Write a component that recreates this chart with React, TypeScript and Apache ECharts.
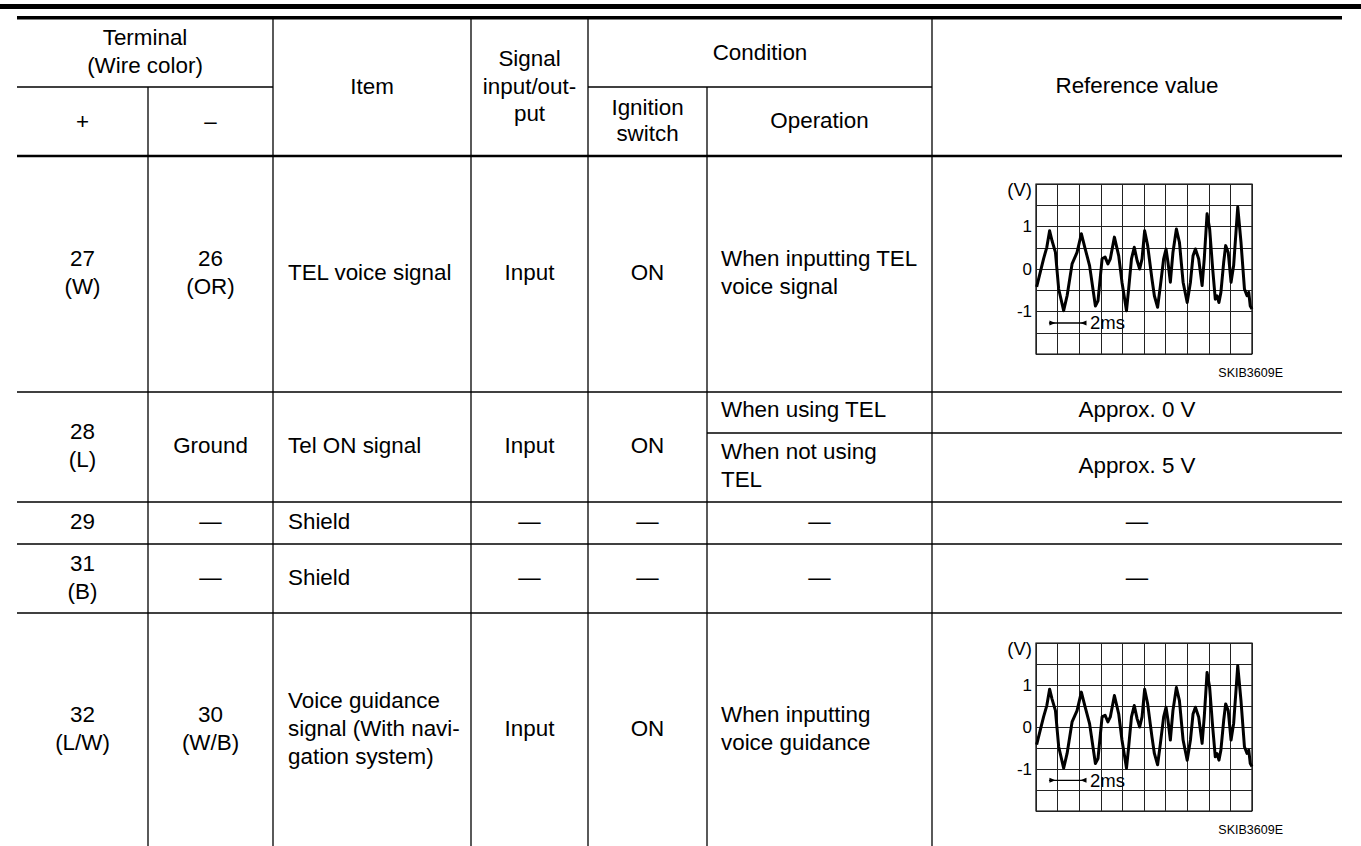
import React, { useEffect, useRef } from 'react';
import * as echarts from 'echarts';

// ---------------- DATA ----------------
const headerTerminal = 'Terminal\n(Wire color)';
const headerPlus = '+';
const headerMinus = '–';
const headerItem = 'Item';
const headerSignal = 'Signal\ninput/out-\nput';
const headerCondition = 'Condition';
const headerIgnition = 'Ignition\nswitch';
const headerOperation = 'Operation';
const headerReference = 'Reference value';

const termPlus = ['27\n(W)', '28\n(L)', '29', '31\n(B)', '32\n(L/W)'];
const termMinus = ['26\n(OR)', 'Ground', '—', '—', '30\n(W/B)'];
const itemNames = ['TEL voice signal', 'Tel ON signal', 'Shield', 'Shield', 'Voice guidance\nsignal (With navi-\ngation system)'];
const signalIO = ['Input', 'Input', '—', '—', 'Input'];
const ignitionSwitch = ['ON', 'ON', '—', '—', 'ON'];
const operations = [
  ['When inputting TEL\nvoice signal'],
  ['When using TEL', 'When not using\nTEL'],
  ['—'],
  ['—'],
  ['When inputting\nvoice guidance'],
];
const referenceValues = [
  null,
  ['Approx. 0 V', 'Approx. 5 V'],
  ['—'],
  ['—'],
  null,
];
const waveCode = 'SKIB3609E';
const waveUnit = '(V)';
const waveScaleLabel = '2ms';
const voltTickLabels = [1, 0, -1];

// waveform trace (time in grid divisions, volts)
const waveTime = [
  0.03, 0.35, 0.5, 0.63, 0.74, 0.9, 1.05, 1.28, 1.44, 1.67,
  1.9, 2.1, 2.28, 2.48, 2.75, 2.87, 3.06, 3.2, 3.33, 3.44,
  3.63, 3.83, 3.98, 4.19, 4.29, 4.42, 4.55, 4.68, 4.8, 4.91,
  5.03, 5.17, 5.37, 5.48, 5.63, 5.76, 5.91, 6.02, 6.11, 6.22,
  6.34, 6.5, 6.64, 6.81, 7.0, 7.15, 7.27, 7.38, 7.53, 7.69,
  7.79, 7.92, 8.04, 8.18, 8.3, 8.38, 8.47, 8.56, 8.69, 8.78,
  8.9, 9.03, 9.15, 9.34, 9.49, 9.65, 9.77, 9.85, 9.92, 10,
];
const waveVolt = [
  -0.42, 0.24, 0.51, 0.9, 0.67, 0.39, -0.47, -0.98, -0.63, 0.12,
  0.39, 0.83, 0.47, 0.08, -0.87, -0.75, 0.24, 0.28, 0.12, 0.24,
  0.75, 0.31, -0.31, -0.98, -0.47, 0.24, 0.51, 0.2, 0, 0.24,
  0.9, 0.55, -0.24, -0.63, -0.9, -0.39, 0.24, 0.47, 0.16, -0.31,
  0.39, 0.94, 0.63, -0.31, -0.79, -0.31, 0.31, 0.47, 0.24, -0.39,
  0.24, 1.3, 0.94, 0, -0.71, -0.63, -0.79, -0.55, 0.16, 0.55,
  0.39, -0.31, 0.08, 1.46, 0.63, -0.47, -0.63, -0.55, -0.87, -0.94,
];

// ---------------- LAYOUT ----------------
const FONT = '"Liberation Sans", Arial, Helvetica, sans-serif';
const FS = 22.4;
const LH = 28;
const W = 1361;
const H = 846;
const TL = 17; // table left
const TR = 1342; // table right
const COL = { c1: 148, c2: 273, c3: 471, c4: 588, c5: 707, c6: 932 };
const Y = { top: 19, sub: 87, head: 156 };
const rowTops = [156, 392, 502, 544, 613];
const rowBottoms = [392, 502, 544, 613, 846];
const row28Split = 433;
const TEXT_DY = -1.5;
const waveGrids = [
  { left: 1036, top: 184, width: 216, height: 170 },
  { left: 1036, top: 643, width: 216, height: 168 },
];

function T(text: string, x: number, y: number, align = 'center', size = FS, lh = LH) {
  return {
    type: 'text',
    silent: true,
    x,
    y,
    style: {
      text,
      fill: '#000',
      fontSize: size,
      fontFamily: FONT,
      align,
      verticalAlign: 'middle',
      lineHeight: lh,
    },
  };
}
function L(x1: number, y1: number, x2: number, y2: number, w = 1.3) {
  return {
    type: 'line',
    silent: true,
    shape: { x1, y1, x2, y2 },
    style: { stroke: '#000', lineWidth: w },
  };
}

export default function App() {
  const ref = useRef<HTMLDivElement>(null);
  useEffect(() => {
    if (!ref.current) return;
    const chart = echarts.init(ref.current, null, { renderer: 'svg' });
    const waveData = waveTime.map((t, i) => [t, waveVolt[i]]);
    chart.setOption({
      animation: false,
      backgroundColor: '#fff',
      grid: waveGrids.map((g) => ({ ...g, show: true, borderColor: '#000', borderWidth: 1.2, backgroundColor: 'transparent' })),
      xAxis: waveGrids.map((_, i) => ({
        type: 'value',
        gridIndex: i,
        min: 0,
        max: 10,
        interval: 1,
        axisLine: { show: false },
        axisTick: { show: false },
        axisLabel: { show: false },
        splitLine: { show: true, lineStyle: { color: '#222', width: 1 } },
      })),
      yAxis: waveGrids.map((_, i) => ({
        type: 'value',
        gridIndex: i,
        min: -2,
        max: 2,
        interval: 0.5,
        axisLine: { show: false },
        axisTick: { show: false },
        axisLabel: {
          show: true,
          margin: 4,
          color: '#000',
          fontSize: 17,
          fontFamily: FONT,
          formatter: (v: number) => (voltTickLabels.includes(v) ? String(v) : ''),
        },
        splitLine: { show: true, lineStyle: { color: '#222', width: 1 } },
      })),
      series: waveGrids.map((_, i) => ({
        type: 'line',
        xAxisIndex: i,
        yAxisIndex: i,
        data: waveData,
        symbol: 'none',
        lineStyle: { color: '#000', width: 3, join: 'round' },
        z: 5,
      })),
    });

    const els: any[] = [];
    // top bars
    els.push({ type: 'rect', silent: true, shape: { x: 0, y: 4, width: W, height: 5 }, style: { fill: '#000' } });
    els.push({ type: 'rect', silent: true, shape: { x: TL, y: 16, width: TR - TL, height: 3.5 }, style: { fill: '#000' } });
    // vertical lines
    els.push(L(COL.c1, Y.sub, COL.c1, H));
    els.push(L(COL.c2, Y.top, COL.c2, H));
    els.push(L(COL.c3, Y.top, COL.c3, H));
    els.push(L(COL.c4, Y.top, COL.c4, H));
    els.push(L(COL.c5, Y.sub, COL.c5, H));
    els.push(L(COL.c6, Y.top, COL.c6, H));
    // header horizontal lines
    els.push(L(TL, Y.sub, COL.c2, Y.sub, 1.6));
    els.push(L(COL.c4, Y.sub, COL.c6, Y.sub, 1.6));
    els.push(L(TL, Y.head, TR, Y.head, 2.4));
    // row lines
    rowBottoms.forEach((b, i) => {
      if (i < rowBottoms.length - 1) els.push(L(TL, b, TR, b, 1.5));
    });
    els.push(L(COL.c5, row28Split, TR, row28Split, 1.5));

    // header texts
    els.push(T(headerTerminal, (TL + COL.c2) / 2, 51));
    els.push(T(headerPlus, (TL + COL.c1) / 2, 121));
    els.push(T(headerMinus, (COL.c1 + COL.c2) / 2, 121));
    els.push(T(headerItem, (COL.c2 + COL.c3) / 2, 86));
    els.push(T(headerSignal, (COL.c3 + COL.c4) / 2, 86, 'center', FS, 27.5));
    els.push(T(headerCondition, (COL.c4 + COL.c6) / 2, 52));
    els.push(T(headerIgnition, (COL.c4 + COL.c5) / 2, 120, 'center', FS, 26));
    els.push(T(headerOperation, (COL.c5 + COL.c6) / 2, 120));
    els.push(T(headerReference, (COL.c6 + TR) / 2, 85));

    // body rows
    termPlus.forEach((_, i) => {
      const cy = (rowTops[i] + rowBottoms[i]) / 2 + TEXT_DY;
      els.push(T(termPlus[i], (TL + COL.c1) / 2, cy));
      els.push(T(termMinus[i], (COL.c1 + COL.c2) / 2, cy));
      els.push(T(itemNames[i], COL.c2 + 15, cy, 'left'));
      els.push(T(signalIO[i], (COL.c3 + COL.c4) / 2, cy));
      els.push(T(ignitionSwitch[i], (COL.c4 + COL.c5) / 2, cy));
      const ops = operations[i];
      const refs = referenceValues[i];
      if (ops.length === 2) {
        const c1 = (rowTops[i] + row28Split) / 2 + TEXT_DY - 2;
        const c2 = (row28Split + rowBottoms[i]) / 2 + TEXT_DY - 1;
        els.push(T(ops[0], COL.c5 + 14, c1, 'left'));
        els.push(T(ops[1], COL.c5 + 14, c2, 'left'));
        if (refs) {
          els.push(T(refs[0], (COL.c6 + TR) / 2, c1));
          els.push(T(refs[1], (COL.c6 + TR) / 2, c2));
        }
      } else {
        if (ops[0] === '—') els.push(T(ops[0], (COL.c5 + COL.c6) / 2, cy));
        else els.push(T(ops[0], COL.c5 + 14, cy, 'left'));
        if (refs) els.push(T(refs[0], (COL.c6 + TR) / 2, cy));
      }
    });

    // waveform annotations
    waveGrids.forEach((g, gi) => {
      const p = (x: number, v: number) => chart.convertToPixel({ gridIndex: gi }, [x, v]) as number[];
      els.push(T(waveUnit, g.left - 4, g.top + 5, 'right', 18.5, 20));
      els.push(T(waveCode, g.left + g.width + 31, g.top + g.height + 19, 'right', 12.5, 14));
      const a = p(0.6, -1.27);
      const b = p(2.31, -1.27);
      els.push(L(a[0], a[1], b[0], b[1], 1.3));
      const lt = p(0.9, -1.27);
      const rt = p(2.06, -1.27);
      els.push({ type: 'polygon', silent: true, shape: { points: [[lt[0], lt[1]], [lt[0] - 6, lt[1] - 2.5], [lt[0] - 6, lt[1] + 2.5]] }, style: { fill: '#000' } });
      els.push({ type: 'polygon', silent: true, shape: { points: [[rt[0], rt[1]], [rt[0] + 6, rt[1] - 2.5], [rt[0] + 6, rt[1] + 2.5]] }, style: { fill: '#000' } });
      const tx = p(2.5, -1.27);
      els.push(T(waveScaleLabel, tx[0], tx[1], 'left', 18.5, 20));
    });

    chart.setOption({ graphic: { elements: els } });
    return () => chart.dispose();
  }, []);
  return <div ref={ref} style={{ position: 'fixed', left: 0, top: 0, width: W, height: H, background: '#fff' }} />;
}
